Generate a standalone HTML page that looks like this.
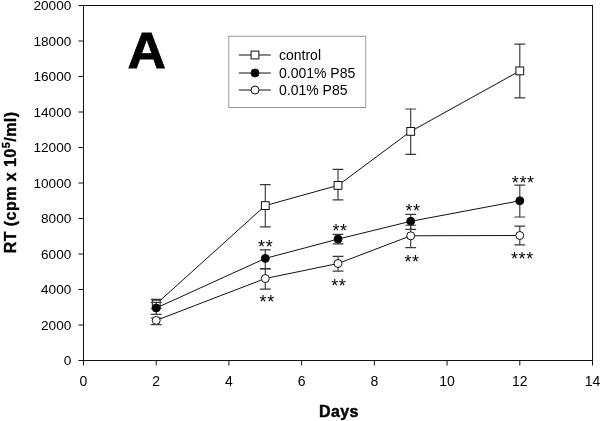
<!DOCTYPE html>
<html><head><meta charset="utf-8"><title>Figure A</title>
<style>html,body{margin:0;padding:0;background:#fff;}body{width:600px;height:421px;overflow:hidden;}svg{display:block;will-change:transform;}text{font-family:"Liberation Sans",sans-serif;fill:#000;}</style>
</head><body>
<svg width="600" height="421" viewBox="0 0 600 421">
<rect x="0" y="0" width="600" height="421" fill="#fff"/>
<rect x="83.5" y="5.5" width="509.0" height="355.0" fill="none" stroke="#111" stroke-width="1"/>
<line x1="78.5" y1="360.50" x2="83.5" y2="360.50" stroke="#111" stroke-width="1"/>
<text x="71.3" y="365.30" font-size="13.6" text-anchor="end">0</text>
<line x1="78.5" y1="325.00" x2="83.5" y2="325.00" stroke="#111" stroke-width="1"/>
<text x="71.3" y="329.80" font-size="13.6" text-anchor="end">2000</text>
<line x1="78.5" y1="289.50" x2="83.5" y2="289.50" stroke="#111" stroke-width="1"/>
<text x="71.3" y="294.30" font-size="13.6" text-anchor="end">4000</text>
<line x1="78.5" y1="254.00" x2="83.5" y2="254.00" stroke="#111" stroke-width="1"/>
<text x="71.3" y="258.80" font-size="13.6" text-anchor="end">6000</text>
<line x1="78.5" y1="218.50" x2="83.5" y2="218.50" stroke="#111" stroke-width="1"/>
<text x="71.3" y="223.30" font-size="13.6" text-anchor="end">8000</text>
<line x1="78.5" y1="183.00" x2="83.5" y2="183.00" stroke="#111" stroke-width="1"/>
<text x="71.3" y="187.80" font-size="13.6" text-anchor="end">10000</text>
<line x1="78.5" y1="147.50" x2="83.5" y2="147.50" stroke="#111" stroke-width="1"/>
<text x="71.3" y="152.30" font-size="13.6" text-anchor="end">12000</text>
<line x1="78.5" y1="112.00" x2="83.5" y2="112.00" stroke="#111" stroke-width="1"/>
<text x="71.3" y="116.80" font-size="13.6" text-anchor="end">14000</text>
<line x1="78.5" y1="76.50" x2="83.5" y2="76.50" stroke="#111" stroke-width="1"/>
<text x="71.3" y="81.30" font-size="13.6" text-anchor="end">16000</text>
<line x1="78.5" y1="41.00" x2="83.5" y2="41.00" stroke="#111" stroke-width="1"/>
<text x="71.3" y="45.80" font-size="13.6" text-anchor="end">18000</text>
<line x1="78.5" y1="5.50" x2="83.5" y2="5.50" stroke="#111" stroke-width="1"/>
<text x="71.3" y="10.30" font-size="13.6" text-anchor="end">20000</text>
<line x1="83.50" y1="360.5" x2="83.50" y2="365.5" stroke="#111" stroke-width="1"/>
<text x="83.50" y="386" font-size="14" text-anchor="middle">0</text>
<line x1="156.21" y1="360.5" x2="156.21" y2="365.5" stroke="#111" stroke-width="1"/>
<text x="156.21" y="386" font-size="14" text-anchor="middle">2</text>
<line x1="228.93" y1="360.5" x2="228.93" y2="365.5" stroke="#111" stroke-width="1"/>
<text x="228.93" y="386" font-size="14" text-anchor="middle">4</text>
<line x1="301.64" y1="360.5" x2="301.64" y2="365.5" stroke="#111" stroke-width="1"/>
<text x="301.64" y="386" font-size="14" text-anchor="middle">6</text>
<line x1="374.36" y1="360.5" x2="374.36" y2="365.5" stroke="#111" stroke-width="1"/>
<text x="374.36" y="386" font-size="14" text-anchor="middle">8</text>
<line x1="447.07" y1="360.5" x2="447.07" y2="365.5" stroke="#111" stroke-width="1"/>
<text x="447.07" y="386" font-size="14" text-anchor="middle">10</text>
<line x1="519.79" y1="360.5" x2="519.79" y2="365.5" stroke="#111" stroke-width="1"/>
<text x="519.79" y="386" font-size="14" text-anchor="middle">12</text>
<line x1="592.50" y1="360.5" x2="592.50" y2="365.5" stroke="#111" stroke-width="1"/>
<text x="592.50" y="386" font-size="14" text-anchor="middle">14</text>
<polyline points="156.21,304.00 265.29,205.60 338.00,185.40 410.71,131.40 519.79,70.90" fill="none" stroke="#111" stroke-width="1"/>
<path d="M156.21 299.30V308.70M150.81 299.30H161.61M150.81 308.70H161.61" fill="none" stroke="#3a3a3a" stroke-width="1.15"/>
<path d="M265.29 184.60V226.90M259.89 184.60H270.69M259.89 226.90H270.69" fill="none" stroke="#3a3a3a" stroke-width="1.15"/>
<path d="M338.00 169.40V199.80M332.60 169.40H343.40M332.60 199.80H343.40" fill="none" stroke="#3a3a3a" stroke-width="1.15"/>
<path d="M410.71 109.00V154.30M405.31 109.00H416.11M405.31 154.30H416.11" fill="none" stroke="#3a3a3a" stroke-width="1.15"/>
<path d="M519.79 44.10V97.90M514.39 44.10H525.19M514.39 97.90H525.19" fill="none" stroke="#3a3a3a" stroke-width="1.15"/>
<rect x="152.31" y="300.10" width="7.8" height="7.8" fill="#fff" stroke="#111" stroke-width="1"/>
<rect x="261.39" y="201.70" width="7.8" height="7.8" fill="#fff" stroke="#111" stroke-width="1"/>
<rect x="334.10" y="181.50" width="7.8" height="7.8" fill="#fff" stroke="#111" stroke-width="1"/>
<rect x="406.81" y="127.50" width="7.8" height="7.8" fill="#fff" stroke="#111" stroke-width="1"/>
<rect x="515.89" y="67.00" width="7.8" height="7.8" fill="#fff" stroke="#111" stroke-width="1"/>
<polyline points="156.21,308.00 265.29,258.40 338.00,239.10 410.71,221.30 519.79,200.80" fill="none" stroke="#111" stroke-width="1"/>
<path d="M156.21 302.30V314.30M150.81 302.30H161.61M150.81 314.30H161.61" fill="none" stroke="#3a3a3a" stroke-width="1.15"/>
<path d="M265.29 249.80V268.60M259.89 249.80H270.69M259.89 268.60H270.69" fill="none" stroke="#3a3a3a" stroke-width="1.15"/>
<path d="M338.00 234.40V243.90M332.60 234.40H343.40M332.60 243.90H343.40" fill="none" stroke="#3a3a3a" stroke-width="1.15"/>
<path d="M410.71 214.30V229.40M405.31 214.30H416.11M405.31 229.40H416.11" fill="none" stroke="#3a3a3a" stroke-width="1.15"/>
<path d="M519.79 185.10V217.00M514.39 185.10H525.19M514.39 217.00H525.19" fill="none" stroke="#3a3a3a" stroke-width="1.15"/>
<circle cx="156.21" cy="308.00" r="4" fill="#000" stroke="#111" stroke-width="1"/>
<circle cx="265.29" cy="258.40" r="4" fill="#000" stroke="#111" stroke-width="1"/>
<circle cx="338.00" cy="239.10" r="4" fill="#000" stroke="#111" stroke-width="1"/>
<circle cx="410.71" cy="221.30" r="4" fill="#000" stroke="#111" stroke-width="1"/>
<circle cx="519.79" cy="200.80" r="4" fill="#000" stroke="#111" stroke-width="1"/>
<polyline points="156.21,320.40 265.29,278.50 338.00,263.50 410.71,235.80 519.79,235.50" fill="none" stroke="#111" stroke-width="1"/>
<path d="M156.21 318.00V324.60M150.81 318.00H161.61M150.81 324.60H161.61" fill="none" stroke="#3a3a3a" stroke-width="1.15"/>
<path d="M265.29 269.00V289.10M259.89 269.00H270.69M259.89 289.10H270.69" fill="none" stroke="#3a3a3a" stroke-width="1.15"/>
<path d="M338.00 256.40V271.10M332.60 256.40H343.40M332.60 271.10H343.40" fill="none" stroke="#3a3a3a" stroke-width="1.15"/>
<path d="M410.71 225.20V247.60M405.31 225.20H416.11M405.31 247.60H416.11" fill="none" stroke="#3a3a3a" stroke-width="1.15"/>
<path d="M519.79 226.10V244.90M514.39 226.10H525.19M514.39 244.90H525.19" fill="none" stroke="#3a3a3a" stroke-width="1.15"/>
<circle cx="156.21" cy="320.40" r="4" fill="#fff" stroke="#111" stroke-width="1"/>
<circle cx="265.29" cy="278.50" r="4" fill="#fff" stroke="#111" stroke-width="1"/>
<circle cx="338.00" cy="263.50" r="4" fill="#fff" stroke="#111" stroke-width="1"/>
<circle cx="410.71" cy="235.80" r="4" fill="#fff" stroke="#111" stroke-width="1"/>
<circle cx="519.79" cy="235.50" r="4" fill="#fff" stroke="#111" stroke-width="1"/>
<text x="265.70" y="253.20" font-size="18" letter-spacing="0.6" text-anchor="middle">**</text>
<text x="267.20" y="308.30" font-size="18" letter-spacing="0.6" text-anchor="middle">**</text>
<text x="340.00" y="236.80" font-size="18" letter-spacing="0.6" text-anchor="middle">**</text>
<text x="338.80" y="292.00" font-size="18" letter-spacing="0.6" text-anchor="middle">**</text>
<text x="413.10" y="217.30" font-size="18" letter-spacing="0.6" text-anchor="middle">**</text>
<text x="412.00" y="268.30" font-size="18" letter-spacing="0.6" text-anchor="middle">**</text>
<text x="523.20" y="188.90" font-size="18" letter-spacing="0.6" text-anchor="middle">***</text>
<text x="522.40" y="265.20" font-size="18" letter-spacing="0.6" text-anchor="middle">***</text>
<rect x="228.8" y="36.3" width="137" height="71.2" fill="#fff" stroke="#999" stroke-width="1"/>
<line x1="238.8" y1="55" x2="270.8" y2="55" stroke="#111" stroke-width="1"/>
<rect x="251.1" y="51.1" width="7.8" height="7.8" fill="#fff" stroke="#111" stroke-width="1"/>
<text x="279" y="60" font-size="14">control</text>
<line x1="238.8" y1="73" x2="270.8" y2="73" stroke="#111" stroke-width="1"/>
<circle cx="255" cy="73" r="4" fill="#000" stroke="#111" stroke-width="1"/>
<text x="279" y="78" font-size="14">0.001% P85</text>
<line x1="238.8" y1="90" x2="270.8" y2="90" stroke="#111" stroke-width="1"/>
<circle cx="255" cy="90" r="4" fill="#fff" stroke="#111" stroke-width="1"/>
<text x="279" y="95" font-size="14">0.01% P85</text>
<text transform="translate(146.75,68.2) scale(1.068,1)" font-size="49.8" font-weight="bold" text-anchor="middle" stroke="#000" stroke-width="0.8">A</text>
<text x="338.9" y="416.9" font-size="16" font-weight="bold" text-anchor="middle" letter-spacing="0.35" stroke="#000" stroke-width="0.45">Days</text>
<text transform="translate(16.4,182.4) rotate(-90)" font-size="16" font-weight="bold" text-anchor="middle" letter-spacing="0.45" stroke="#000" stroke-width="0.35">RT (cpm x 10<tspan font-size="11" dy="-6">5</tspan><tspan dy="6">/ml)</tspan></text>
</svg>
</body></html>
